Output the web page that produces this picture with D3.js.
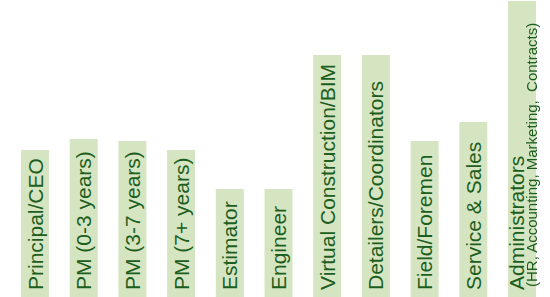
<!DOCTYPE html>
<html>
<head>
<meta charset="utf-8">
<script src="https://cdn.jsdelivr.net/npm/d3@7"></script>
<style>
  body { margin: 0; background: #fff; }
  #chart { position: relative; width: 550px; height: 297px; font-family: 'Liberation Sans', Arial, sans-serif; }
  svg { display: block; }
  .sub {
    position: absolute;
    white-space: pre;
    transform-origin: 0 0;
    will-change: transform;
    line-height: 1;
  }
</style>
</head>
<body>
<div id="chart"><svg></svg></div>
<script>
const w = 550;
const h = 297;

const roles = [
  'Principal/CEO',
  'PM (0-3 years)',
  'PM (3-7 years)',
  'PM (7+ years)',
  'Estimator',
  'Engineer',
  'Virtual Construction/BIM',
  'Detailers/Coordinators',
  'Field/Foremen',
  'Service & Sales',
  'Administrators'
];
const values = [147, 158, 156, 147, 108, 108, 242, 242, 156, 175, 296];
const subLabels = ['', '', '', '', '', '', '', '', '', '', '(HR, Accounting, Marketing,  Contracts)'];

const barFill = '#d6e5c1';
const textFill = '#1b5e20';

const svg = d3.select('svg').attr('width', w).attr('height', h);

const x = d3.scaleBand().domain(roles).range([21, 536]).paddingInner(0.425).paddingOuter(0);
const y = d3.scaleLinear().domain([0, 297]).range([h, 0]);

const data = roles.map((r, i) => ({ role: r, value: values[i], sub: subLabels[i] }));

svg
  .selectAll('rect')
  .data(data)
  .enter()
  .append('rect')
  .attr('x', d => x(d.role))
  .attr('y', d => y(d.value))
  .attr('width', x.bandwidth())
  .attr('height', d => h - y(d.value))
  .attr('fill', barFill);

// main label, baseline shifted left when there is a second line
svg
  .selectAll('text.main')
  .data(data)
  .enter()
  .append('text')
  .attr('class', 'main')
  .attr('transform', d => {
    const cx = x(d.role) + x.bandwidth() / 2 + (d.sub ? 2.5 : 7.5);
    return `translate(${cx},290) rotate(-90)`;
  })
  .attr('fill', textFill)
  .style('font-size', '21px')
  .text(d => d.role);

// second, smaller line under "Administrators" (html so it rasterizes cleanly when rotated)
d3.select('#chart')
  .selectAll('div.sub')
  .data(data.filter(d => d.sub))
  .enter()
  .append('div')
  .attr('class', 'sub')
  .style('left', d => x(d.role) + x.bandwidth() / 2 + 2 + 'px')
  .style('top', '287px')
  .style('transform', 'rotate(-90deg)')
  .style('color', textFill)
  .style('font-size', '15px')
  .text(d => d.sub);
</script>
</body>
</html>
